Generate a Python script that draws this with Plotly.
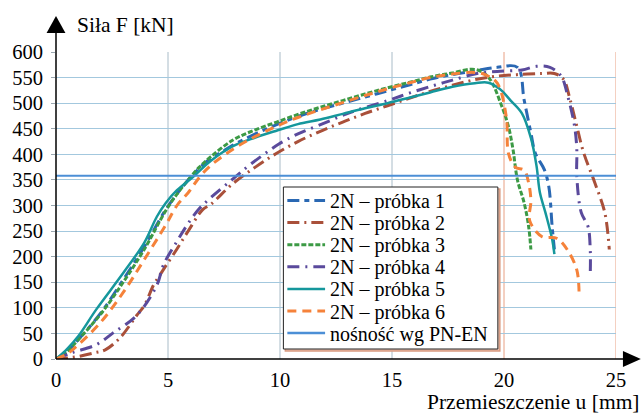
import plotly.graph_objects as go

# ---- data ----
x1 = [0, 0.5, 1, 2, 3, 3.95, 4.9, 5.9, 6.4, 6.9, 7.5, 7.9, 8.9, 9.85, 10.8, 11.8, 12.8, 13.8, 14.8, 15.8, 16.7, 17.7, 18.7, 19.7, 20.6, 20.9, 21.2, 21.4, 21.8, 22.0, 22.15, 22.25]
y1 = [0, 15, 38, 90, 155, 220, 292, 350, 373, 392, 407, 418, 440, 458, 474, 488, 500, 512, 524, 536, 547, 556, 563, 570, 570, 506, 442, 402, 370, 337, 259, 214]

x2 = [0, 0.5, 1.0, 1.7, 2.2, 2.85, 3.6, 3.95, 4.35, 4.65, 4.9, 5.4, 5.9, 6.55, 6.9, 7.9, 8.9, 9.85, 10.8, 11.8, 12.8, 13.8, 14.8, 15.8, 16.7, 17.7, 18.7, 19.7, 20.7, 21.7, 22.25, 22.65, 22.95, 23.25, 23.55, 24.05, 24.5, 24.7]
y2 = [0, 2, 5, 12, 18, 41, 85, 105, 144, 165, 182, 215, 250, 292, 302, 343, 375, 402, 425, 445, 463, 480, 495, 510, 523, 535, 546, 553, 556, 558, 558, 547, 507, 455, 404, 345, 286, 214]

x3 = [0, 0.5, 1, 2, 3, 3.95, 4.9, 5.4, 5.9, 6.4, 6.9, 7.9, 8.9, 9.85, 10.8, 11.8, 12.8, 13.8, 14.8, 15.8, 16.7, 17.7, 18.7, 19.3, 19.9, 20.2, 20.4, 20.6, 20.9, 21.1, 21.2]
y3 = [0, 15, 38, 88, 150, 215, 290, 322, 350, 375, 395, 428, 448, 463, 478, 492, 505, 518, 530, 541, 551, 559, 566, 551, 494, 454, 410, 350, 305, 259, 214]

x4 = [0, 0.7, 1.8, 2.55, 3.6, 4.5, 4.8, 5.4, 5.9, 6.4, 6.9, 7.9, 8.7, 9.95, 10.8, 11.7, 12.8, 13.4, 14.8, 15.8, 16.9, 17.7, 18.8, 19.7, 20.8, 21.45, 22.05, 22.55, 22.85, 23.15, 23.25, 23.25, 23.45, 23.75, 23.85, 23.85]
y4 = [0, 12, 28, 51, 85, 144, 184, 230, 265, 294, 315, 352, 381, 420, 440, 456, 476, 486, 505, 520, 535, 545, 558, 562, 565, 572, 570, 553, 513, 455, 410, 357, 286, 259, 214, 164]

x5 = [0, 0.5, 1.0, 1.8, 3.0, 3.95, 4.5, 4.9, 5.4, 6.1, 6.9, 7.9, 8.9, 9.9, 10.8, 11.8, 12.8, 13.8, 14.8, 15.8, 16.7, 17.7, 18.7, 19.3, 19.8, 20.3, 20.8, 21.2, 21.45, 21.6, 21.85, 22.15, 22.25]
y5 = [0, 20, 45, 97, 168, 228, 278, 305, 330, 355, 387, 416, 433, 447, 459, 468, 479, 490, 500, 511, 521, 532, 539, 540, 528, 505, 480, 432, 378, 326, 286, 234, 205]

x6 = [0, 0.5, 1, 2, 3, 3.95, 4.9, 5.4, 5.9, 6.4, 6.9, 7.9, 8.9, 9.85, 10.8, 11.8, 12.8, 13.8, 14.8, 15.8, 16.7, 17.7, 18.7, 19.2, 19.7, 20.1, 20.2, 20.5, 20.9, 21.1, 21.2, 21.15, 21.7, 22.35, 22.85, 23.25, 23.35]
y6 = [0, 10, 28, 72, 130, 195, 262, 300, 325, 355, 378, 410, 435, 455, 472, 487, 501, 515, 528, 540, 550, 557, 560, 555, 539, 474, 402, 375, 369, 344, 310, 270, 239, 236, 212, 174, 132]

ref_value = 358
x_range = [0, 25]
y_range = [0, 600]
x_ticks = [0, 5, 10, 15, 20, 25]
y_ticks = list(range(0, 601, 50))

names = ["2N – próbka 1", "2N – próbka 2", "2N – próbka 3", "2N – próbka 4",
         "2N – próbka 5", "2N – próbka 6", "nośność wg PN-EN"]

FONT = "Liberation Serif"

# plot-area geometry (pixels) used for paper-coordinate decorations
L, R, T, B = 52, 616, 52, 359
def px(xp):
    return (xp - L) / (R - L)
def py(yp):
    return (B - yp) / (B - T)

fig = go.Figure()

# vertical gridlines
for xv in x_ticks[1:]:
    col = "#a9bcc8" if xv < 20 else "#e8a083"
    fig.add_shape(type="line", xref="x", yref="paper", x0=xv, x1=xv, y0=0, y1=1,
                  line=dict(color=col, width=1), layer="below")

styles = [
    (x1, y1, "#2a68b3", "12px,5px,5px,5px", 3),
    (x2, y2, "#a9503a", "12px,5px,2px,5px", 3),
    (x3, y3, "#3c9a45", "5px,2px", 3),
    (x4, y4, "#5a4a9c", "12px,6px,2px,6px", 3),
    (x5, y5, "#15979c", "solid", 2.5),
    (x6, y6, "#f5823a", "9px,6px", 3),
]
for (xs, ys, col, dash, w), nm in zip(styles, names[:6]):
    fig.add_trace(go.Scatter(x=xs, y=ys, mode="lines", name=nm,
                             line=dict(color=col, dash=dash, width=w), line_shape="spline"))

fig.add_trace(go.Scatter(x=x_range, y=[ref_value, ref_value], mode="lines",
                         name=names[6], line=dict(color="#4c8fd6", width=2)))

# axes with arrows
fig.add_shape(type="line", xref="paper", yref="paper", x0=0, x1=0, y0=0, y1=py(28),
              line=dict(color="black", width=1.5))
fig.add_shape(type="line", xref="paper", yref="paper", x0=0, x1=px(628), y0=0, y1=0,
              line=dict(color="black", width=1.5))
fig.add_shape(type="path", xref="paper", yref="paper",
              path=f"M {px(42.5)} {py(33)} L {px(61.5)} {py(33)} L {px(52)} {py(16)} Z",
              fillcolor="black", line=dict(color="black", width=0))
fig.add_shape(type="path", xref="paper", yref="paper",
              path=f"M {px(623)} {py(351)} L {px(623)} {py(367)} L {px(641)} {py(359)} Z",
              fillcolor="black", line=dict(color="black", width=0))

# manual legend (tight line spacing as in the reference)
fig.add_shape(type="rect", xref="paper", yref="paper", x0=px(283), x1=px(499), y0=py(189), y1=py(351),
              line=dict(color="#d99a80", width=1.5), fillcolor="#ecc5b5", layer="above")
fig.add_shape(type="rect", xref="paper", yref="paper", x0=px(281), x1=px(497), y0=py(187), y1=py(349),
              line=dict(color="#222222", width=1), fillcolor="white", layer="above")
leg_cols = [s[2] for s in styles] + ["#4c8fd6"]
leg_dash = [s[3] for s in styles] + ["solid"]
leg_w = [s[4] for s in styles] + [2.5]
for i, nm in enumerate(names):
    yc = 200.5 + 22.1 * i
    fig.add_shape(type="line", xref="paper", yref="paper", x0=px(285), x1=px(323), y0=py(yc), y1=py(yc),
                  line=dict(color=leg_cols[i], dash=leg_dash[i], width=leg_w[i]), layer="above")
    fig.add_annotation(text=nm, xref="paper", yref="paper", x=px(326), y=py(yc + 1),
                       xanchor="left", yanchor="middle", showarrow=False,
                       font=dict(family=FONT, size=20, color="black"))

fig.add_annotation(text="Siła F [kN]", xref="paper", yref="paper", x=px(71), y=py(25),
                   xanchor="left", yanchor="middle", showarrow=False,
                   font=dict(family=FONT, size=21.5, color="black"))
fig.add_annotation(text="Przemieszczenie u [mm]", xref="paper", yref="paper", x=px(642), y=py(402),
                   xanchor="right", yanchor="middle", showarrow=False,
                   font=dict(family=FONT, size=21.5, color="black"))

fig.update_layout(
    width=643, height=413,
    margin=dict(l=L, r=643 - R, t=T, b=413 - B),
    paper_bgcolor="white", plot_bgcolor="white",
    font=dict(family=FONT, size=20, color="black"),
    showlegend=False,
    xaxis=dict(range=x_range, tickvals=x_ticks, showgrid=False, zeroline=False,
               showline=False, ticks="", ticklabelstandoff=6,
               tickfont=dict(family=FONT, size=20.5, color="black")),
    yaxis=dict(range=y_range, tickvals=y_ticks, showgrid=True, gridcolor="#a3c8de",
               gridwidth=1, zeroline=False, showline=False, ticks="outside", ticklen=4,
               tickcolor="#9aa7b0", ticklabelstandoff=4,
               tickfont=dict(family=FONT, size=20.5, color="black")),
)

fig.write_html("out.html", config={"displayModeBar": False},
               post_script="document.body.style.margin='0';document.body.style.padding='0';")
